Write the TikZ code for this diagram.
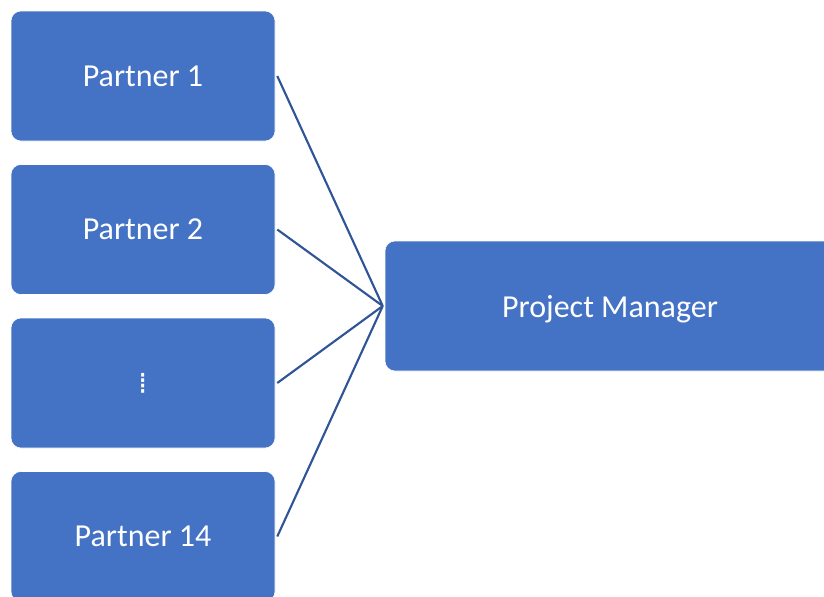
\documentclass[tikz,border=0pt]{standalone}
\usepackage{fontspec}
\setmainfont{Carlito}
\newfontfamily\dotsfont{DejaVu Sans}
\usepackage{xcolor}
\usetikzlibrary{positioning}
\definecolor{boxblue}{HTML}{4472C4}
\definecolor{lineblue}{HTML}{2F5597}
\tikzset{
  partnerbox/.style={fill=boxblue, draw=white, line width=0.4pt, rounded corners=7.5pt,
    minimum width=198pt, minimum height=97.5pt, inner sep=0pt, text depth=0pt,
    text=white, font=\fontsize{24}{28}\selectfont},
  link/.style={draw=lineblue, line width=1.6pt}
}
\begin{document}
\begin{tikzpicture}[x=0.75pt,y=-0.75pt]
\useasboundingbox (0,0) rectangle (824,596);
\clip (0,0) rectangle (824,596);
% partners on the left
\node[partnerbox] (p1) at (143,76) {Partner 1};
\node[partnerbox] (p2) at (143,229.5) {Partner 2};
\node[partnerbox] (pdots) at (143,383) {\dotsfont\fontsize{22}{24}\selectfont ⁞};
\node[partnerbox] (p14) at (143,536.5) {Partner 14};
% manager on the right
\node[partnerbox, minimum width=337.5pt] (pm) at (610,306) {Project Manager};
% links
\draw[link] ([xshift=1.5pt]p1.east) -- ([xshift=-1.5pt]pm.west);
\draw[link] ([xshift=1.5pt]p2.east) -- ([xshift=-1.5pt]pm.west);
\draw[link] ([xshift=1.5pt]pdots.east) -- ([xshift=-1.5pt]pm.west);
\draw[link] ([xshift=1.5pt]p14.east) -- ([xshift=-1.5pt]pm.west);
\end{tikzpicture}
\end{document}
